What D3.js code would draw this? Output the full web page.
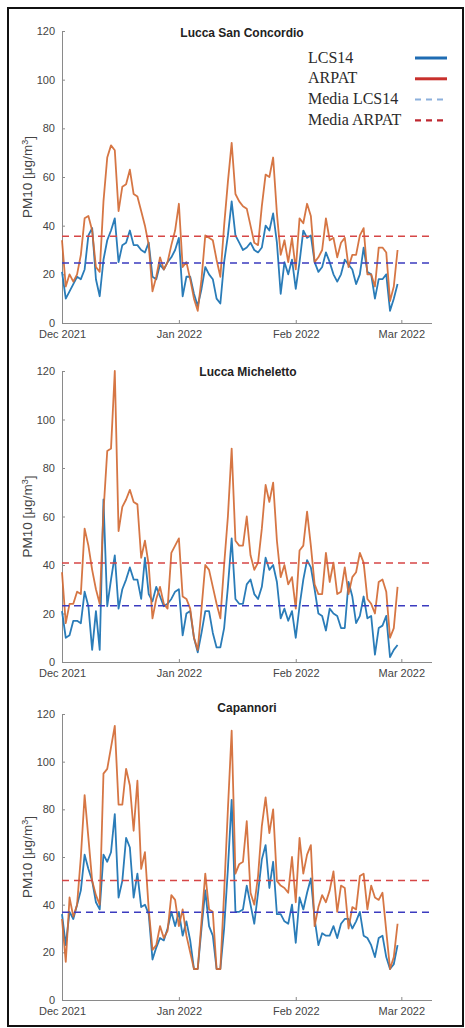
<!DOCTYPE html>
<html>
<head>
<meta charset="utf-8">
<script src="https://cdn.jsdelivr.net/npm/d3@7"></script>
<style>
  html, body { margin: 0; padding: 0; background: #fff; }
  svg { display: block; }
  .tick text { font-family: "Liberation Sans", Arial, sans-serif; font-size: 11px; fill: #444; }
  .axis path, .axis line { stroke: #8a8a8a; stroke-width: 1; }
</style>
</head>
<body>
<svg id="chart" width="465" height="1028"></svg>
<script>
// Daily PM10 series, 1 Dec 2021 – 28 Feb 2022
const firstDay = Date.UTC(2021, 11, 1);
const dayCount = 90;

const stationNames = ["Lucca San Concordio", "Lucca Micheletto", "Capannori"];

const lcs14SanConcordio = [21,10,13,16,19,18,22,36,39,18, 11,26,34,38,43,25,32,33,38,32,
  32,30,29,33,19,18,24,22,25,27, 30,35,11,19,19,12,7,14,23,20,
  18,10,8,25,36,50,36,33,30,31, 33,30,29,31,40,38,45,33,12,25,
  20,26,14,25,38,35,36,25,21,23, 29,25,20,17,20,26,24,22,16,20,
  31,21,20,10,18,18,20,5,10,16];
const arpatSanConcordio = [34,15,20,17,20,28,43,44,38,23, 21,50,68,73,71,46,56,57,63,53,
  52,46,40,32,13,19,27,22,25,32, 38,49,23,25,18,10,5,18,36,35,
  34,26,19,40,58,74,53,50,48,47, 40,33,32,48,61,60,68,45,28,34,
  25,35,22,43,41,49,44,25,27,30, 43,34,35,27,33,35,23,28,28,36,
  39,20,20,15,31,31,29,9,15,30];

const lcs14Micheletto = [21,10,11,17,17,16,29,23,5,21, 5,67,23,34,44,22,30,34,39,34,
  34,26,43,28,25,31,27,23,24,26, 29,30,11,20,21,10,4,12,21,21,
  12,6,6,14,31,51,26,24,24,32, 34,28,26,31,43,38,40,33,18,22,
  17,21,10,23,34,42,39,30,20,19, 13,22,20,19,14,14,33,27,16,19,
  27,18,19,3,14,15,19,2,5,7];
const arpatMicheletto = [37,16,24,24,29,28,55,48,38,30, 24,62,87,88,120,54,64,67,71,66,
  65,43,50,40,18,26,31,24,22,45, 48,51,27,26,22,10,5,22,40,38,
  31,24,18,40,60,88,50,48,48,60, 44,38,41,55,73,66,74,50,35,40,
  32,35,22,46,48,62,48,32,28,28, 45,33,41,28,29,39,28,35,37,45,
  41,26,24,20,33,34,29,10,14,31];

const lcs14Capannori = [36,23,37,34,40,46,61,55,50,41, 38,61,58,62,78,43,50,68,64,43,
  53,39,40,36,17,22,26,25,30,37, 31,37,27,33,25,13,13,30,46,31,
  27,13,13,30,55,84,37,37,38,48, 40,32,45,59,65,47,58,36,36,33,
  32,40,24,43,38,45,51,34,23,28, 27,27,31,26,32,34,34,30,33,37,
  27,26,23,18,26,27,18,13,15,23];
const arpatCapannori = [34,16,43,35,40,60,86,68,50,44, 40,95,97,106,115,82,82,97,90,71,
  92,55,62,38,21,23,31,26,29,44, 42,31,38,27,20,13,13,33,53,38,
  37,13,13,45,80,113,53,57,58,75, 45,40,52,73,85,70,80,50,48,47,
  45,60,41,68,53,61,65,31,39,44, 41,46,54,37,48,47,30,39,38,52,
  53,38,48,43,42,45,29,13,18,32];

const yTickValues = [0, 20, 40, 60, 80, 100, 120];
const xTickDates = [Date.UTC(2021, 11, 1), Date.UTC(2022, 0, 1), Date.UTC(2022, 1, 1), Date.UTC(2022, 2, 1)];
const legendLabels = ["LCS14", "ARPAT", "Media LCS14", "Media ARPAT"];

const colors = {
  lcs: "#2a7cb8",
  arpat: "#d36a34",
  meanLcs: "#3b3bbf",
  meanArpat: "#d64646",
  legendLcs: "#1f6cb3",
  legendArpat: "#c8302c",
  legendMeanLcs: "#8cb0dc",
  legendMeanArpat: "#bf2830"
};

const dates = d3.range(dayCount).map(i => new Date(firstDay + i * 864e5));

const svg = d3.select("#chart");

// outer frame
svg.append("rect")
  .attr("x", 8).attr("y", 8)
  .attr("width", 455).attr("height", 1018)
  .attr("fill", "none").attr("stroke", "#111").attr("stroke-width", 2);

const panels = [
  { title: stationNames[0], lcs: lcs14SanConcordio, arpat: arpatSanConcordio, top: 31, bottom: 323, titleX: 242 },
  { title: stationNames[1], lcs: lcs14Micheletto, arpat: arpatMicheletto, top: 371, bottom: 662, titleX: 248 },
  { title: stationNames[2], lcs: lcs14Capannori, arpat: arpatCapannori, top: 714, bottom: 1000, titleX: 247 }
];

const x = d3.scaleUtc()
  .domain([new Date(Date.UTC(2021, 11, 1)), new Date(Date.UTC(2022, 2, 9))])
  .range([62, 431.5]);

const fmt = d3.utcFormat("%b %Y");

panels.forEach((p, pi) => {
  const y = d3.scaleLinear().domain([0, 120]).range([p.bottom, p.top]);
  const g = svg.append("g");

  // axes with inward ticks
  g.append("g")
    .attr("class", "axis")
    .attr("transform", `translate(${x.range()[0]},0)`)
    .call(d3.axisLeft(y).tickValues(yTickValues).tickSizeInner(-3).tickSizeOuter(0).tickPadding(7));

  g.append("g")
    .attr("class", "axis")
    .attr("transform", `translate(0,${p.bottom})`)
    .call(d3.axisBottom(x).tickValues(xTickDates.map(d => new Date(d))).tickFormat(fmt)
      .tickSizeInner(-3).tickSizeOuter(0).tickPadding(7));

  // y-axis label
  const yl = g.append("text")
    .attr("transform", `translate(27,${(p.top + p.bottom) / 2}) rotate(-90)`)
    .attr("text-anchor", "middle")
    .attr("dy", "0.35em")
    .style("font-family", "'Liberation Sans', Arial, sans-serif")
    .style("font-size", "13.5px")
    .style("fill", "#444");
  yl.append("tspan").text("PM10 [");
  yl.append("tspan").text("μ");
  yl.append("tspan").text("g/m");
  yl.append("tspan").attr("dy", "-0.45em").style("font-size", "9px").text("3");
  yl.append("tspan").attr("dy", "0.45em").text("]");

  // title
  g.append("text")
    .attr("x", p.titleX)
    .attr("y", (pi === 0 ? 33 : pi === 1 ? 372 : 708) + 4)
    .attr("text-anchor", "middle")
    .style("font-family", "'Liberation Sans', Arial, sans-serif")
    .style("font-weight", "bold")
    .style("font-size", "12px")
    .style("fill", "#222")
    .text(p.title);

  const line = d3.line()
    .x((d, i) => x(dates[i]))
    .y(d => y(d));

  g.append("path").datum(p.lcs)
    .attr("d", line)
    .attr("fill", "none").attr("stroke", colors.lcs)
    .attr("stroke-width", 1.8).attr("stroke-linejoin", "round");

  g.append("path").datum(p.arpat)
    .attr("d", line)
    .attr("fill", "none").attr("stroke", colors.arpat)
    .attr("stroke-width", 1.8).attr("stroke-linejoin", "round")
    .attr("opacity", 0.92);

  // period means
  const meanLcs = d3.mean(p.lcs);
  const meanArpat = d3.mean(p.arpat);
  [[meanArpat, colors.meanArpat], [meanLcs, colors.meanLcs]].forEach(([m, c]) => {
    g.append("line")
      .attr("x1", x.range()[0]).attr("x2", x.range()[1])
      .attr("y1", y(m)).attr("y2", y(m))
      .attr("stroke", c).attr("stroke-width", 1.5)
      .attr("stroke-dasharray", "7,5");
  });
});

// legend (first panel)
const legend = svg.append("g");
const legendStyles = [
  { color: colors.legendLcs, width: 3, dash: null },
  { color: colors.legendArpat, width: 3, dash: null },
  { color: colors.legendMeanLcs, width: 2, dash: "6,5" },
  { color: colors.legendMeanArpat, width: 2.2, dash: "6,5" }
];
legendLabels.forEach((lab, i) => {
  const cy = 57 + i * 20.8;
  legend.append("text")
    .attr("x", 308).attr("y", cy + 5.5)
    .style("font-family", "'Liberation Serif', 'Times New Roman', serif")
    .style("font-size", "16px")
    .style("fill", "#2a2a2a")
    .text(lab);
  const st = legendStyles[i];
  legend.append("line")
    .attr("x1", 415).attr("x2", 447)
    .attr("y1", cy + 1).attr("y2", cy + 1)
    .attr("stroke", st.color).attr("stroke-width", st.width)
    .attr("stroke-dasharray", st.dash);
});
</script>
</body>
</html>
